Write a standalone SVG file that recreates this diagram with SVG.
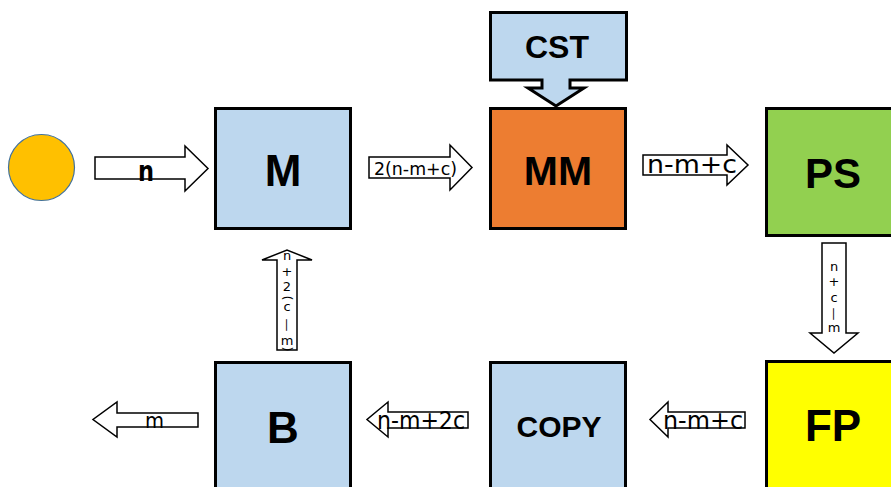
<svg xmlns="http://www.w3.org/2000/svg" width="891" height="487" viewBox="0 0 891 487">
  <style>
    .box { stroke: #000; stroke-width: 3; }
    .blue { fill: #BDD7EE; }
    .lbl { font-family: "Liberation Sans", Arial, sans-serif; font-weight: bold; text-anchor: middle; fill: #000; }
    .arrow { fill: #fff; stroke: #000; stroke-width: 1.5; stroke-linejoin: miter; }
    .atxt { font-family: "DejaVu Sans", Verdana, sans-serif; fill: #000; }
    .vt { font-family: "DejaVu Sans", Verdana, sans-serif; font-size: 13px; text-anchor: middle; fill: #000; }
  </style>
  <rect width="891" height="487" fill="#fff"/>

  <!-- source -->
  <g id="start">
    <circle cx="41.5" cy="167.5" r="33" fill="#FFC000" stroke="#41719C" stroke-width="1.2"/>
  </g>

  <g id="node-M">
    <rect class="box blue" x="215.5" y="108.5" width="135" height="120"/>
    <text class="lbl" x="283" y="186" font-size="44">M</text>
  </g>

  <g id="node-MM">
    <rect class="box" x="490.5" y="108.5" width="135" height="120" fill="#ED7D31"/>
    <text class="lbl" x="558" y="185" font-size="41">MM</text>
  </g>

  <g id="node-CST">
    <path class="box blue" d="M490.5,12.5 H626.5 V80 H570 V88 H584 L556,106 L528,88 H542 V80 H490.5 Z"/>
    <text class="lbl" x="557" y="58" font-size="32">CST</text>
  </g>

  <g id="node-PS">
    <rect class="box" x="766.5" y="108.5" width="135" height="127" fill="#92D050"/>
    <text class="lbl" x="833" y="188" font-size="42">PS</text>
  </g>

  <g id="node-FP">
    <rect class="box" x="766.5" y="361.5" width="135" height="140" fill="#FFFF00"/>
    <text class="lbl" x="833" y="441" font-size="44">FP</text>
  </g>

  <g id="node-COPY">
    <rect class="box blue" x="490.5" y="362.5" width="135" height="140"/>
    <text class="lbl" x="559" y="437" font-size="30">COPY</text>
  </g>

  <g id="node-B">
    <rect class="box blue" x="215.5" y="362.5" width="135" height="140"/>
    <text class="lbl" x="283" y="443" font-size="44">B</text>
  </g>

  <!-- block arrows between stages -->
  <g id="connectors">
    <g>
      <path class="arrow" d="M95,157 H185 V146 L208,168.5 L185,191 V179 H95 Z"/>
      <text class="atxt" x="138" y="181" font-size="28" font-weight="bold" textLength="16" lengthAdjust="spacingAndGlyphs">n</text>
    </g>
    <g>
      <path class="arrow" d="M369,157 H450 V145 L472,167.5 L450,190 V178 H369 Z"/>
      <text class="atxt" x="374" y="175" font-size="18" textLength="83" lengthAdjust="spacingAndGlyphs">2(n-m+c)</text>
    </g>
    <g>
      <path class="arrow" d="M643,155 H727 V145 L748,165 L727,185 V175 H643 Z"/>
      <text class="atxt" x="647" y="173" font-size="24" textLength="90" lengthAdjust="spacingAndGlyphs">n-m+c</text>
    </g>
    <g>
      <path class="arrow" d="M822,243 H846 V333 H858 L834,353 L810,333 H822 Z"/>
      <text class="vt" x="834" y="271">n</text>
      <text class="vt" x="834" y="286">+</text>
      <text class="vt" x="834" y="302">c</text>
      <text class="vt" transform="translate(834,314) rotate(90)" dominant-baseline="central">—</text>
      <text class="vt" x="834" y="332">m</text>
    </g>
    <g>
      <path class="arrow" d="M745,412 H668 V402 L650,419.5 L668,437 V428 H745 Z"/>
      <text class="atxt" x="663" y="429" font-size="24" textLength="80" lengthAdjust="spacingAndGlyphs">n-m+c</text>
    </g>
    <g>
      <path class="arrow" d="M468,412 H388 V402 L367,419.5 L388,437 V428 H468 Z"/>
      <text class="atxt" x="377" y="429" font-size="24" textLength="88" lengthAdjust="spacingAndGlyphs">n-m+2c</text>
    </g>
    <g>
      <path class="arrow" d="M198,413 H117 V402 L93,419.5 L117,437 V427 H198 Z"/>
      <text class="atxt" x="145" y="428" font-size="22" textLength="19" lengthAdjust="spacingAndGlyphs">m</text>
    </g>
    <g>
      <path class="arrow" d="M277,350 V260 H262 L287,250 L312,260 H297 V350 Z"/>
      <text class="vt" x="287" y="260">n</text>
      <text class="vt" x="287" y="276">+</text>
      <text class="vt" x="287" y="291">2</text>
      <text class="vt" transform="translate(287,298) rotate(90)" dominant-baseline="central">(</text>
      <text class="vt" x="287" y="311">c</text>
      <text class="vt" transform="translate(287,325) rotate(90)" dominant-baseline="central">—</text>
      <text class="vt" x="287" y="345">m</text>
      <text class="vt" transform="translate(287,349) rotate(90)" dominant-baseline="central">)</text>
    </g>
  </g>
</svg>
